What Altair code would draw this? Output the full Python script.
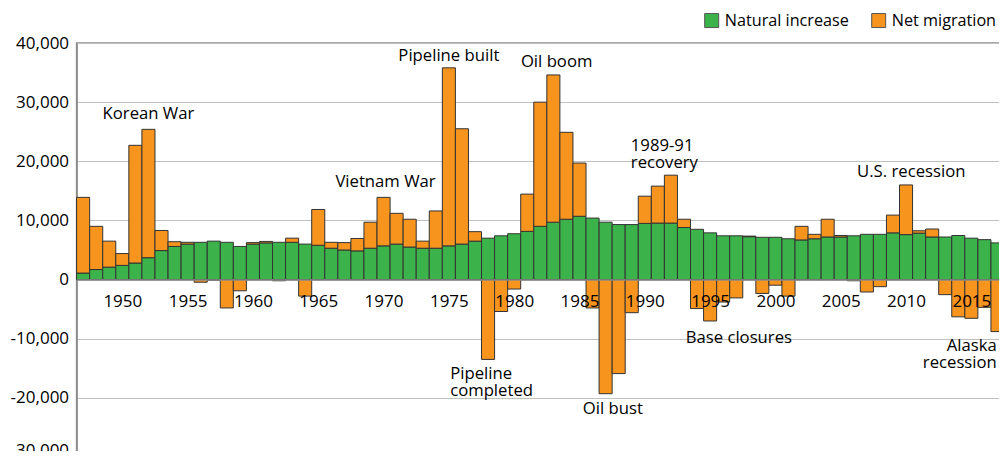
import altair as alt
import pandas as pd

FONT = "Open Sans"

years = list(range(1947, 2018))
natural = [
    1100, 1700, 2100, 2400, 2800, 3700, 4900, 5600, 6000, 6300,
    6500, 6300, 5600, 6000, 6200, 6300, 6300, 6000, 5800, 5300,
    5000, 4850, 5300, 5700, 6000, 5500, 5300, 5300, 5700, 6000,
    6500, 7000, 7400, 7750, 8150, 9000, 9700, 10200, 10700, 10400,
    9700, 9300, 9300, 9500, 9550, 9550, 8800, 8500, 7900, 7400,
    7400, 7250, 7150, 7150, 6900, 6700, 6900, 7200, 7200, 7400,
    7650, 7650, 7900, 7600, 7850, 7200, 7200, 7450, 7000, 6750,
    6200,
]
migration = [
    12800, 7300, 4400, 2000, 19900, 21700, 3400, 800, 300, -450,
    -100, -4800, -1900, 250, 250, -200, 700, -2800, 6050, 1000,
    1250, 2100, 4400, 8200, 5200, 4700, 1200, 6300, 30100, 19500,
    1600, -13500, -5400, -1600, 6300, 21000, 24900, 14700, 9000, -4800,
    -19300, -15900, -5600, 4600, 6250, 8100, 1400, -4900, -7000, -3800,
    -3100, 100, -2350, -950, -2800, 2300, 750, 3000, 250, -200,
    -2100, -1200, 3000, 8400, 400, 1350, -2550, -6300, -6550, -4700,
    -8800,
]

series_names = ["Natural increase", "Net migration"]
series_colors = ["#3BB34A", "#F7941E"]

ann_text = ["Korean War", "Vietnam War", "Pipeline built", "Oil boom",
            "1989-91\nrecovery", "U.S. recession", "Pipeline\ncompleted",
            "Oil bust", "Base closures", "Alaska\nrecession"]
ann_x = [1952.0, 1970.15, 1975.0, 1983.25, 1988.93, 2010.4, 1975.1,
         1987.55, 1997.2, 2016.95]
ann_y = [28000, 16550, 37800, 36800, 22640, 18200, -15960, -21960,
         -9820, -11160]
ann_align = ["center", "center", "center", "center", "left", "center",
             "left", "center", "center", "right"]

year_ticks = list(range(1950, 2016, 5))
y_ticks = list(range(-30000, 40001, 10000))

rows = []
for yr, n, m in zip(years, natural, migration):
    rows.append({"year": yr, "series": series_names[0], "value": n, "natural": n})
    rows.append({"year": yr, "series": series_names[1], "value": m, "natural": n})
df = pd.DataFrame(rows)

ann_df = pd.DataFrame({"text": ann_text, "x": ann_x, "y": ann_y, "align": ann_align})

xscale = alt.Scale(domain=[1946.5, 2017.5], nice=False, zero=False)
yscale = alt.Scale(domain=[-30000, 40000], nice=False, zero=False)

x_axis = alt.Axis(values=year_ticks, format="d", title=None, grid=False,
                  ticks=False, offset=-177.43, zindex=1, labelFontSize=17,
                  labelPadding=14, domainColor="#8c8c8c", domainWidth=1.5,
                  labelColor="black", labelFont=FONT)
y_axis = alt.Axis(values=y_ticks, title=None, ticks=False, labelPadding=8,
                  labelFontSize=17, labelColor="black", labelFont=FONT,
                  labelExpr="replace(format(datum.value, ','), '\u2212', '-')",
                  labelOffset={"condition": {"test": "datum.value == -30000", "value": -7}, "value": 0},
                  gridColor="#c0c0c0", gridWidth=1, domainColor="#8c8c8c",
                  domainWidth=1.5)

bars = alt.Chart(df).transform_calculate(
    x0="datum.year - 0.5",
    x1="datum.year + 0.5",
    lo="datum.series == 'Natural increase' ? 0 : (datum.value >= 0 ? datum.natural : 0)",
    hi="datum.series == 'Natural increase' ? datum.value : (datum.value >= 0 ? datum.natural + datum.value : datum.value)",
).mark_bar(stroke="#333333", strokeWidth=1).encode(
    x=alt.X("x0:Q", scale=xscale, axis=x_axis),
    x2="x1:Q",
    y=alt.Y("lo:Q", scale=yscale, axis=y_axis),
    y2="hi:Q",
    color=alt.Color(
        "series:N",
        scale=alt.Scale(domain=series_names, range=series_colors),
        legend=alt.Legend(
            title=None, orient="none", legendX=627, legendY=-31,
            direction="horizontal", symbolType="square", symbolSize=196,
            symbolStrokeColor="#555555", symbolStrokeWidth=1,
            labelFontSize=16.2, labelFont=FONT, labelColor="black",
            labelOffset=5, columnPadding=20,
        ),
    ),
)

layers = [bars]
for a in ["center", "left", "right"]:
    layers.append(
        alt.Chart(ann_df).transform_filter(alt.datum.align == a)
        .mark_text(align=a, baseline="middle", fontSize=16.7, font=FONT,
                   color="black", lineBreak="\n", lineHeight=17)
        .encode(
            x=alt.X("x:Q", scale=xscale, axis=x_axis),
            y=alt.Y("y:Q", scale=yscale, axis=y_axis),
            text="text:N",
        )
    )

chart = alt.layer(*layers).properties(
    width=927.4, height=414,
    autosize=alt.AutoSizeParams(type="none"),
    padding={"left": 68.6, "top": 35, "right": -5, "bottom": -6},
).configure_view(stroke="#8c8c8c", strokeWidth=1.5)

chart.save("out.html", embed_options={"renderer": "svg", "actions": False})
